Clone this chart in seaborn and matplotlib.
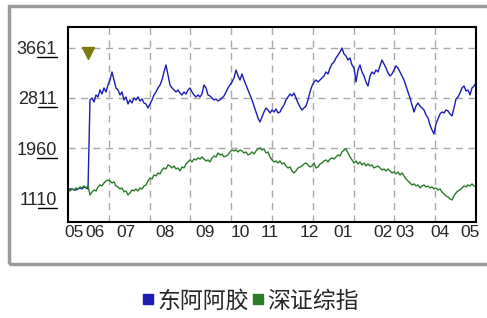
import numpy as np
import pandas as pd
import seaborn as sns
import matplotlib.pyplot as plt
from matplotlib.lines import Line2D
from matplotlib.patches import Rectangle

# trading-day index 0..204, values as normalised index points
blue_vals = [
    1247, 1264, 1264, 1247, 1247, 1264, 1281, 1264, 1298, 1281,
    1264, 2777, 2811, 2743, 2862, 2828, 2947, 2879, 2981, 2913,
    3032, 3117, 3253, 3117, 2981, 2947, 2862, 2913, 2777, 2828,
    2709, 2777, 2726, 2811, 2777, 2828, 2760, 2794, 2726, 2709,
    2641, 2709, 2777, 2862, 2913, 2981, 3032, 3117, 3253, 3372,
    3202, 3032, 2981, 2947, 2913, 2947, 2896, 2862, 2913, 2879,
    2947, 2981, 2913, 2862, 2828, 2862, 2828, 2879, 3032, 2981,
    2862, 2845, 2811, 2777, 2794, 2760, 2777, 2811, 2845, 2913,
    2981, 3032, 3083, 3151, 3287, 3185, 3117, 3219, 3117, 3032,
    2947, 2862, 2777, 2675, 2573, 2471, 2403, 2488, 2573, 2641,
    2607, 2556, 2607, 2573, 2624, 2556, 2573, 2641, 2692, 2777,
    2828, 2879, 2845, 2896, 2811, 2726, 2658, 2607, 2641, 2675,
    2777, 2913, 3015, 3083, 3117, 3083, 3117, 3151, 3185, 3253,
    3219, 3321, 3389, 3423, 3491, 3542, 3593, 3661, 3559, 3525,
    3457, 3491, 3372, 3321, 3083, 3287, 3372, 3253, 3185, 3083,
    3015, 3185, 3253, 3219, 3287, 3253, 3355, 3457, 3389, 3321,
    3236, 3185, 3219, 3287, 3355, 3321, 3253, 3185, 3117, 3015,
    2913, 2811, 2692, 2573, 2675, 2726, 2675, 2641, 2607, 2522,
    2471, 2352, 2267, 2199, 2369, 2454, 2539, 2573, 2556, 2607,
    2590, 2539, 2505, 2641, 2794, 2828, 2896, 2981, 3015, 2930,
    2947, 2862, 2981, 3015, 3066,
]
green_vals = [
    1247, 1230, 1264, 1247, 1281, 1264, 1298, 1281, 1315, 1281,
    1315, 1162, 1213, 1247, 1230, 1298, 1332, 1315, 1366, 1400,
    1417, 1400, 1366, 1383, 1315, 1298, 1264, 1281, 1213, 1230,
    1162, 1196, 1247, 1230, 1264, 1230, 1281, 1264, 1315, 1332,
    1400, 1451, 1434, 1502, 1485, 1536, 1519, 1587, 1621, 1604,
    1672, 1655, 1621, 1655, 1604, 1621, 1570, 1638, 1621, 1689,
    1723, 1757, 1723, 1774, 1757, 1791, 1774, 1808, 1774, 1740,
    1757, 1723, 1791, 1825, 1808, 1876, 1842, 1859, 1808, 1825,
    1842, 1893, 1927, 1910, 1927, 1893, 1927, 1910, 1876, 1893,
    1842, 1859, 1893, 1859, 1910, 1944, 1961, 1927, 1944, 1876,
    1893, 1808, 1757, 1723, 1740, 1706, 1740, 1689, 1706, 1655,
    1621, 1638, 1570, 1536, 1570, 1621, 1638, 1655, 1689, 1706,
    1672, 1638, 1655, 1706, 1621, 1638, 1689, 1706, 1740, 1757,
    1723, 1774, 1791, 1774, 1808, 1842, 1825, 1893, 1927, 1944,
    1876, 1808, 1757, 1706, 1740, 1689, 1723, 1672, 1706, 1655,
    1689, 1655, 1672, 1621, 1638, 1655, 1621, 1587, 1604, 1570,
    1604, 1570, 1536, 1553, 1519, 1553, 1502, 1536, 1485, 1434,
    1400, 1366, 1332, 1349, 1315, 1332, 1281, 1315, 1332, 1298,
    1315, 1281, 1298, 1264, 1281, 1247, 1264, 1213, 1179, 1145,
    1128, 1094, 1077, 1145, 1196, 1230, 1247, 1281, 1315, 1298,
    1332, 1315, 1349, 1315, 1298,
]
series_names = ['东阿阿胶', '深证综指']
series_colors = ['#1c1cb4', '#2a7a2a']

month_pos = [3, 13.5, 29, 48.5, 68.5, 86, 101, 120.5, 137.5, 157.5, 168.5, 186, 201]
month_labels = ['05', '06', '07', '08', '09', '10', '11', '12', '01', '02', '03', '04', '05']
y_ticks = [1110, 1960, 2811, 3661]

event_day = 10
event_val = 3576

days = np.arange(len(blue_vals))
df = pd.concat([
    pd.DataFrame({'day': days, 'value': blue_vals, 'name': series_names[0]}),
    pd.DataFrame({'day': days, 'value': green_vals, 'name': series_names[1]}),
])

sns.set_style('white')
tick_font = ['Liberation Sans', 'DejaVu Sans']

fig = plt.figure(figsize=(4.87, 3.18), dpi=100)
fig.patch.set_facecolor('white')
ax = fig.add_axes([68 / 487, 1 - 222 / 318, 408 / 487, 195 / 318])

sns.lineplot(data=df, x='day', y='value', hue='name', palette=series_colors,
             linewidth=1.0, legend=False, ax=ax)
ax.plot([event_day], [event_val], marker='v', color='#7d7a10',
        markersize=8, linestyle='none')

ax.set_xlim(0, len(blue_vals) - 1)
ax.set_ylim(702, 4018)
ax.set_xticks(month_pos)
ax.set_xticklabels(month_labels, family=tick_font, fontsize=12.5)
ax.set_xticks(np.linspace(0, len(blue_vals) - 1, 11)[1:-1], minor=True)
ax.set_yticks(y_ticks)
ax.set_yticklabels([str(v) for v in y_ticks], family=tick_font, fontsize=13)
ax.set_xlabel('')
ax.set_ylabel('')
ax.tick_params(axis='both', which='both', length=0)
ax.tick_params(axis='x', pad=2)
ax.tick_params(axis='y', pad=8)

ax.grid(False)
ax.grid(True, axis='x', which='minor', color='#a8a8a8', linestyle=(0, (5, 4)), linewidth=1)
for v in y_ticks[1:]:
    ax.axhline(v, color='#a8a8a8', linestyle=(0, (5, 4)), linewidth=1, zorder=0)

for s in ax.spines.values():
    s.set_visible(True)
    s.set_color('black')
    s.set_linewidth(1.5)

# outer gray frame
fig.patches.append(Rectangle((9 / 487, 1 - 264 / 318), 485 / 487, 258 / 318,
                             transform=fig.transFigure, fill=False,
                             edgecolor='#9a9a9a', linewidth=2.5))

# underline the last two digits of each y label
fig.canvas.draw()
for lab in ax.get_yticklabels():
    bb = lab.get_window_extent()
    x0 = bb.x0 + bb.width * 0.5
    fig.lines.append(Line2D([x0, bb.x1], [bb.y0 + 1, bb.y0 + 1], transform=None,
                            color='black', linewidth=1))

handles = [Line2D([], [], marker='s', color=c, linestyle='none', markersize=7.5)
           for c in series_colors]
fig.legend(handles, series_names, loc='center', bbox_to_anchor=(250 / 487, 1 - 301 / 318),
           ncol=2, frameon=False, handlelength=0.6, handletextpad=0.1,
           columnspacing=0.1, prop={'family': ['Noto Sans CJK SC', 'DejaVu Sans'], 'size': 16.5})

fig.savefig('out.png', dpi=100, facecolor='white')
